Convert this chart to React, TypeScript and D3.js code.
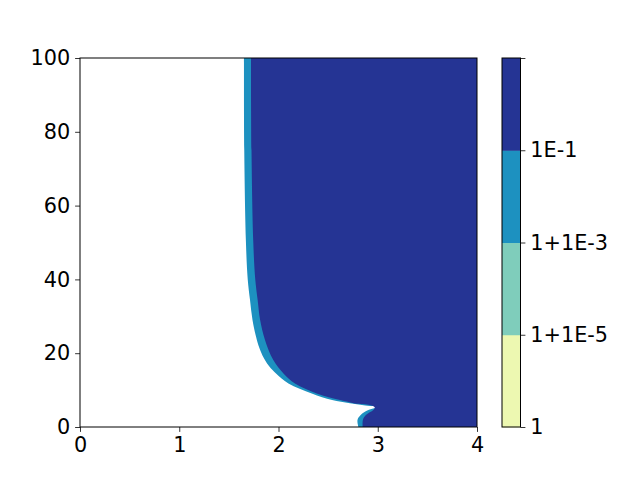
import { useRef, useEffect } from 'react'
import * as d3 from 'd3'

// boundary of the region >= 1+1E-3 (light blue), traced top to bottom
const outerY = [100, 75, 50, 40, 34.4, 29, 23.6, 20.9, 18.2, 16.3, 14.5, 11.8, 9.1, 7.3, 6.42, 5.7, 5.5, 4.6, 3.25, 1.9, 0]
const outerX = [1.652, 1.655, 1.672, 1.69, 1.713, 1.738, 1.782, 1.815, 1.862, 1.91, 1.975, 2.1, 2.335, 2.54, 2.72, 2.92, 3.016, 2.905, 2.828, 2.796, 2.805]

// boundary of the region >= 1E-1 (dark blue)
const innerY = [100, 75, 50, 40, 34.4, 29, 23.6, 18.2, 14.5, 11.8, 9.1, 7.3, 6.4, 5.96, 5.3, 4.6, 3.25, 1.9, 0]
const innerX = [1.723, 1.728, 1.746, 1.766, 1.79, 1.815, 1.864, 1.946, 2.05, 2.166, 2.385, 2.62, 2.77, 2.92, 2.97, 2.955, 2.88, 2.85, 2.848]

const xTicks = [0, 1, 2, 3, 4]
const yTicks = [0, 20, 40, 60, 80, 100]

const levelLabels = ['1', '1+1E-5', '1+1E-3', '1E-1']
const levelColors = ['#edf8b1', '#7fcdbb', '#1d91c0', '#253494']

export default function App() {
	const ref = useRef<SVGSVGElement>(null)

	const width = 640
	const height = 480
	const margin = { top: 58, left: 80, right: 163, bottom: 53 }
	const plotW = width - margin.left - margin.right
	const plotH = height - margin.top - margin.bottom

	useEffect(() => {
		document.body.style.margin = '0'
		const svg = d3.select(ref.current)
		svg.selectAll('*').remove()

		const font = 'DejaVu Sans, sans-serif'
		const fs = 20.8
		const tick = 4.9

		const x = d3.scaleLinear().domain([0, 4]).range([margin.left, margin.left + plotW])
		const y = d3.scaleLinear().domain([0, 100]).range([margin.top + plotH, margin.top])

		const clip = svg.append('clipPath').attr('id', 'plotclip')
		clip
			.append('rect')
			.attr('x', margin.left)
			.attr('y', margin.top)
			.attr('width', plotW)
			.attr('height', plotH)

		const line = d3
			.line<[number, number]>()
			.x((d) => x(d[0]))
			.y((d) => y(d[1]))
			.curve(d3.curveCatmullRom.alpha(0.5))

		const region = (xs: number[], ys: number[]) => {
			const pts: [number, number][] = xs.map((v, i) => [v, ys[i]])
			return line(pts) + `L${x(4)},${y(0)}L${x(4)},${y(100)}Z`
		}

		const g = svg.append('g').attr('clip-path', 'url(#plotclip)')
		g.append('path').attr('d', region(outerX, outerY)).attr('fill', levelColors[2])
		g.append('path').attr('d', region(innerX, innerY)).attr('fill', levelColors[3])

		// axes
		svg
			.append('g')
			.attr('transform', `translate(0,${margin.top + plotH})`)
			.call(d3.axisBottom(x).tickValues(xTicks).tickSize(tick).tickPadding(4.9).tickFormat(d3.format('d')))
			.call((a) => a.select('.domain').remove())
			.call((a) => a.selectAll('.tick line').attr('stroke-width', 0.8))
			.call((a) => a.selectAll('.tick text').attr('font-size', fs).attr('font-family', font).attr('fill', '#000'))

		svg
			.append('g')
			.attr('transform', `translate(${margin.left},0)`)
			.call(d3.axisLeft(y).tickValues(yTicks).tickSize(tick).tickPadding(4.9).tickFormat(d3.format('d')))
			.call((a) => a.select('.domain').remove())
			.call((a) => a.selectAll('.tick line').attr('stroke-width', 0.8))
			.call((a) => a.selectAll('.tick text').attr('font-size', fs).attr('font-family', font).attr('fill', '#000'))

		svg
			.append('rect')
			.attr('x', margin.left)
			.attr('y', margin.top)
			.attr('width', plotW)
			.attr('height', plotH)
			.attr('fill', 'none')
			.attr('stroke', '#000')
			.attr('stroke-width', 1)

		// colorbar
		const cbX = 502
		const cbW = 18.5
		const cb = d3
			.scaleBand<string>()
			.domain(levelLabels)
			.range([margin.top + plotH, margin.top])
			.padding(0)
		const cbTick = d3
			.scalePoint<string>()
			.domain(levelLabels.concat(['']))
			.range([margin.top + plotH, margin.top])

		svg
			.append('g')
			.selectAll('rect')
			.data(levelLabels)
			.join('rect')
			.attr('x', cbX)
			.attr('y', (d) => cb(d)!)
			.attr('width', cbW)
			.attr('height', cb.bandwidth() + 0.5)
			.attr('fill', (d, i) => levelColors[i])

		svg
			.append('g')
			.attr('transform', `translate(${cbX + cbW},0)`)
			.call(d3.axisRight(cbTick).tickSize(tick).tickPadding(4.9))
			.call((a) => a.select('.domain').remove())
			.call((a) => a.selectAll('.tick line').attr('stroke-width', 0.8))
			.call((a) => a.selectAll('.tick text').attr('font-size', fs).attr('font-family', font).attr('fill', '#000'))

		svg
			.append('rect')
			.attr('x', cbX)
			.attr('y', margin.top)
			.attr('width', cbW)
			.attr('height', plotH)
			.attr('fill', 'none')
			.attr('stroke', '#000')
			.attr('stroke-width', 1)
	}, [])

	return <svg ref={ref} width={width} height={height} style={{ display: 'block', background: '#fff' }}></svg>
}
